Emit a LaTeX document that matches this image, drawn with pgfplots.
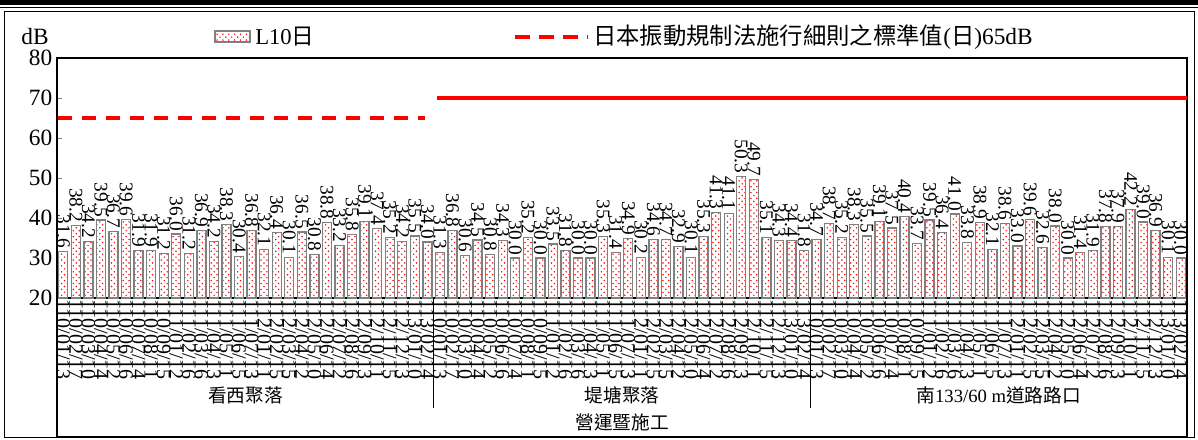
\documentclass[border=0pt]{standalone}
\usepackage{fontspec}
\setmainfont{Liberation Serif}
\newfontfamily\cjk{Noto Sans CJK TC}
\usepackage{pgfplots}
\pgfplotsset{compat=1.18}
\usetikzlibrary{patterns}
\pgfdeclarepatternformonly{reddots}{\pgfqpoint{-1pt}{-1pt}}{\pgfqpoint{5pt}{5pt}}{\pgfqpoint{4.4pt}{4.4pt}}{%
  \pgfpathcircle{\pgfqpoint{0pt}{0pt}}{0.62pt}%
  \pgfpathcircle{\pgfqpoint{2.2pt}{2.2pt}}{0.62pt}%
  \pgfusepath{fill}}

\pgfplotstableread{
x y
1 31.6
2 38.2
3 34.2
4 39.5
5 36.7
6 39.6
7 31.9
8 31.9
9 31.2
10 36.0
11 31.2
12 36.9
13 34.2
14 38.3
15 30.4
16 36.8
17 32.1
18 36.4
19 30.1
20 36.5
21 30.8
22 38.8
23 33.2
24 35.8
25 39.1
26 37.4
27 35.2
28 34.2
29 35.5
30 34.0
31 31.3
32 36.8
33 30.6
34 34.5
35 30.8
36 34.3
37 30.0
38 35.2
39 30.0
40 33.5
41 31.8
42 30.0
43 30.0
44 35.3
45 31.4
46 34.9
47 30.2
48 34.6
49 34.7
50 32.9
51 30.1
52 35.3
53 41.3
54 41.1
55 50.3
56 49.7
57 35.1
58 34.3
59 34.4
60 31.8
61 34.7
62 38.7
63 35.2
64 38.3
65 35.5
66 39.1
67 37.5
68 40.4
69 33.7
70 39.5
71 36.4
72 41.0
73 33.8
74 38.9
75 32.1
76 38.6
77 33.0
78 39.6
79 32.6
80 38.0
81 30.0
82 31.4
83 31.9
84 37.8
85 37.9
86 42.2
87 39.0
88 36.9
89 30.1
90 30.0
}\Lten

\begin{document}
\begin{tikzpicture}
\useasboundingbox (0,0) rectangle (898.5pt,-329.25pt);
\begin{scope}[x=0.75pt,y=-0.75pt]
\fill[black] (0,0) rectangle (1198,5);
\fill[black] (0,6.6) rectangle (1198,8.2);
\draw[line width=0.75pt] (4,11) rectangle (1194,437);
% legend
\fill[white] (215,31) rectangle (250,42);
\path[pattern=reddots, pattern color=red] (215,31) rectangle (250,42);
\draw[gray, line width=1pt] (215,31) rectangle (250,42);
\node[anchor=west, inner sep=0pt, font=\fontsize{17}{17}\selectfont] at (255,37) {L10{\cjk 日}};
\draw[red, line width=3pt, dash pattern=on 11pt off 7pt] (515,37) -- (588,37);
\node[anchor=west, inner sep=0pt, font=\fontsize{17.5}{17.5}\selectfont] at (593,37) {{\cjk 日本振動規制法施行細則之標準值}({\cjk 日})65dB};
\node[font=\fontsize{17.5}{17.5}\selectfont, inner sep=0pt] at (35,37) {dB};
\end{scope}
\begin{axis}[
  at={(42.75pt,-223.5pt)}, anchor=south west, scale only axis,
  width=847.5pt, height=180pt,
  xmin=0.5, xmax=90.5, ymin=20, ymax=80,
  ytick={20,30,...,80}, ytick pos=left, tick align=inside, major tick length=4pt,
  xtick={1,...,90},
  xticklabels={110/01/13,110/02/17,110/03/10,110/04/14,110/05/12,110/06/16,110/07/14,110/08/11,110/09/15,111/01/12,111/02/16,111/03/16,111/04/13,111/05/11,111/06/15,111/07/13,112/01/11,112/02/15,112/03/15,112/04/12,112/05/10,112/06/14,112/07/12,112/08/16,112/09/13,112/10/11,112/11/15,112/12/13,113/01/10,113/02/14,
  110/01/13,110/02/17,110/03/10,110/04/14,110/05/12,110/06/16,110/07/14,110/08/11,110/09/15,111/01/12,111/02/16,111/03/16,111/04/13,111/05/11,111/06/15,111/07/13,112/01/11,112/02/15,112/03/15,112/04/12,112/05/10,112/06/14,112/07/12,112/08/16,112/09/13,112/10/11,112/11/15,112/12/13,113/01/10,113/02/14,
  110/01/13,110/02/17,110/03/10,110/04/14,110/05/12,110/06/16,110/07/14,110/08/11,110/09/15,111/01/12,111/02/16,111/03/16,111/04/13,111/05/11,111/06/15,111/07/13,112/01/11,112/02/15,112/03/15,112/04/12,112/05/10,112/06/14,112/07/12,112/08/16,112/09/13,112/10/11,112/11/15,112/12/13,113/01/10,113/02/14},
  x tick style={draw=none},
  xticklabel style={rotate=-90, anchor=west, font=\fontsize{15}{15}\selectfont, inner sep=1pt},
  yticklabel style={font=\fontsize{17.5}{17.5}\selectfont},
  /pgf/number format/assume math mode=true,
  axis line style={line width=1pt},
  clip=false,
]
\addplot[ybar, bar width=0.72, draw=gray, line width=1pt, fill=white,
  postaction={pattern=reddots, pattern color=red},
  nodes near coords={\pgfmathprintnumber[fixed,fixed zerofill,precision=1]{\pgfplotspointmeta}},
  every node near coord/.append style={rotate=-90, anchor=east, inner sep=2pt, text=black, font=\fontsize{14.5}{14.5}\selectfont}]
  table[x=x,y=y] {\Lten};
\addplot[red, line width=3pt, dash pattern=on 11pt off 7pt] coordinates {(0.55,65) (29.8,65)};
\addplot[red, line width=3pt] coordinates {(30.75,70) (90.5,70)};
\draw[line width=0.75pt] (axis cs:30.5,20) -- ([yshift=-82.5pt]axis cs:30.5,20);
\draw[line width=0.75pt] (axis cs:60.5,20) -- ([yshift=-82.5pt]axis cs:60.5,20);
\draw[line width=1pt] (axis cs:0.5,20) -- ([yshift=-104.25pt]axis cs:0.5,20) -- ([yshift=-104.25pt]axis cs:90.5,20) -- (axis cs:90.5,20);
\node[font=\cjk\fontsize{14}{14}\selectfont] at ([yshift=-72.75pt]axis cs:15.5,20) {看西聚落};
\node[font=\cjk\fontsize{14}{14}\selectfont] at ([yshift=-72.75pt]axis cs:45.5,20) {堤塘聚落};
\node[font=\fontsize{14}{14}\selectfont] at ([yshift=-72.75pt]axis cs:75.5,20) {{\cjk 南}133/60 m{\cjk 道路路口}};
\node[font=\cjk\fontsize{14}{14}\selectfont] at ([yshift=-93pt]axis cs:45.5,20) {營運暨施工};
\end{axis}
\end{tikzpicture}
\end{document}
